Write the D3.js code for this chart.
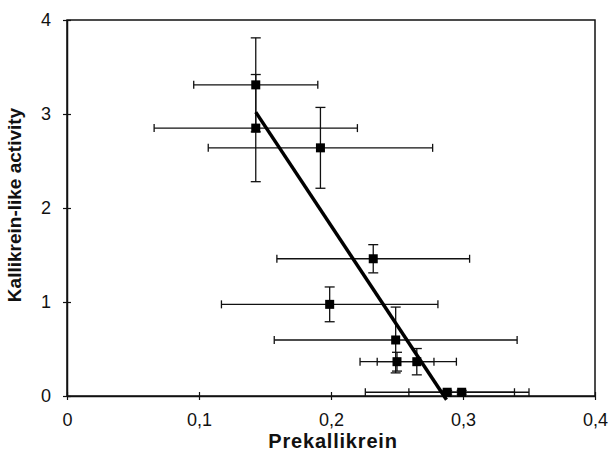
<!DOCTYPE html>
<html>
<head>
<meta charset="utf-8">
<script src="https://cdn.jsdelivr.net/npm/d3@7"></script>
<style>
  body { margin: 0; background: #fff; }
  text { font-family: "Liberation Sans", Arial, sans-serif; fill: #111; }
</style>
</head>
<body>
<script>
const width = 610,
  height = 461;

const margin = { top: 20, right: 15, bottom: 65, left: 67 };
const innerWidth = width - margin.left - margin.right;
const innerHeight = height - margin.top - margin.bottom;

// Data
const prekallikrein = [0.143, 0.143, 0.192, 0.232, 0.199, 0.249, 0.25, 0.265, 0.288, 0.299];
const activity = [3.31, 2.85, 2.64, 1.46, 0.975, 0.596, 0.365, 0.365, 0.04, 0.04];
const xErr = [0.047, 0.077, 0.085, 0.073, 0.082, 0.092, 0.028, 0.03, 0.062, 0.04];
const yErr = [0.5, 0.57, 0.43, 0.15, 0.185, 0.35, 0.1, 0.14, 0.02, 0.02];
const fitX = [0.143, 0.2875];
const fitY = [3.02, -0.04];
const xTicks = [0, 0.1, 0.2, 0.3, 0.4];
const yTicks = [0, 1, 2, 3, 4];

const points = prekallikrein.map((x, i) => ({
  x: x,
  y: activity[i],
  ex: xErr[i],
  ey: yErr[i]
}));

const xScale = d3.scaleLinear().domain([0, 0.4]).range([0, innerWidth]);
const yScale = d3.scaleLinear().domain([0, 4]).range([innerHeight, 0]);

const commaFormat = d => (d === 0 ? "0" : d3.format(".1f")(d).replace(".", ","));

const svg = d3
  .select("body")
  .append("svg")
  .attr("width", width)
  .attr("height", height);

const mainG = svg
  .append("g")
  .attr("transform", `translate(${margin.left}, ${margin.top})`);

// frame
mainG
  .append("rect")
  .attr("width", innerWidth)
  .attr("height", innerHeight)
  .attr("fill", "none")
  .attr("stroke", "#111")
  .attr("stroke-width", 1.5);

// axes with ticks crossing the line
const xAxis = d3
  .axisBottom(xScale)
  .tickValues(xTicks)
  .tickSizeInner(4)
  .tickSizeOuter(0)
  .tickPadding(13)
  .tickFormat(commaFormat);

const yAxis = d3
  .axisLeft(yScale)
  .tickValues(yTicks)
  .tickSizeInner(4)
  .tickSizeOuter(0)
  .tickPadding(12)
  .tickFormat(d3.format("d"));

const gx = mainG
  .append("g")
  .attr("transform", `translate(0,${innerHeight})`)
  .call(xAxis);
gx.selectAll(".tick line").attr("y1", -4).attr("stroke", "#111").attr("stroke-width", 1.2);
gx.select(".domain").attr("stroke", "#111").attr("stroke-width", 1.5);
gx.selectAll("text").attr("font-size", 18).attr("fill", "#111");

const gy = mainG.append("g").call(yAxis);
gy.selectAll(".tick line").attr("x1", 4).attr("stroke", "#111").attr("stroke-width", 1.2);
gy.select(".domain").attr("stroke", "#111").attr("stroke-width", 1.5);
gy.selectAll("text").attr("font-size", 18).attr("fill", "#111");

// error bars
const bars = mainG.append("g").attr("stroke", "#111").attr("stroke-width", 1.3);

const capH = 4,
  capV = 5;

points.forEach(d => {
  const cx = xScale(d.x),
    cy = yScale(d.y);
  const x1 = xScale(d.x - d.ex),
    x2 = xScale(d.x + d.ex);
  const y1 = yScale(d.y + d.ey),
    y2 = yScale(d.y - d.ey);
  // horizontal
  bars.append("line").attr("x1", x1).attr("x2", x2).attr("y1", cy).attr("y2", cy);
  bars.append("line").attr("x1", x1).attr("x2", x1).attr("y1", cy - capH).attr("y2", cy + capH);
  bars.append("line").attr("x1", x2).attr("x2", x2).attr("y1", cy - capH).attr("y2", cy + capH);
  // vertical
  bars.append("line").attr("x1", cx).attr("x2", cx).attr("y1", y1).attr("y2", y2);
  bars.append("line").attr("x1", cx - capV).attr("x2", cx + capV).attr("y1", y1).attr("y2", y1);
  bars.append("line").attr("x1", cx - capV).attr("x2", cx + capV).attr("y1", y2).attr("y2", y2);
});

// fitted line
mainG
  .append("line")
  .attr("x1", xScale(fitX[0]))
  .attr("y1", yScale(fitY[0]))
  .attr("x2", xScale(fitX[1]))
  .attr("y2", yScale(fitY[1]))
  .attr("stroke", "#000")
  .attr("stroke-width", 3.5);

// markers
const size = 9;
mainG
  .selectAll("rect.pt")
  .data(points)
  .enter()
  .append("rect")
  .attr("class", "pt")
  .attr("x", d => xScale(d.x) - size / 2)
  .attr("y", d => yScale(d.y) - size / 2)
  .attr("width", size)
  .attr("height", size)
  .attr("fill", "#000");

// axis titles
mainG
  .append("text")
  .attr("x", innerWidth / 2 + 2)
  .attr("y", innerHeight + 52)
  .attr("text-anchor", "middle")
  .attr("font-size", 20)
  .attr("font-weight", "bold")
  .attr("letter-spacing", 0.8)
  .text("Prekallikrein");

mainG
  .append("text")
  .attr("transform", "rotate(-90)")
  .attr("x", -innerHeight / 2 + 3)
  .attr("y", -46)
  .attr("text-anchor", "middle")
  .attr("font-size", 19)
  .attr("font-weight", "bold")
  .text("Kallikrein-like activity");
</script>
</body>
</html>
